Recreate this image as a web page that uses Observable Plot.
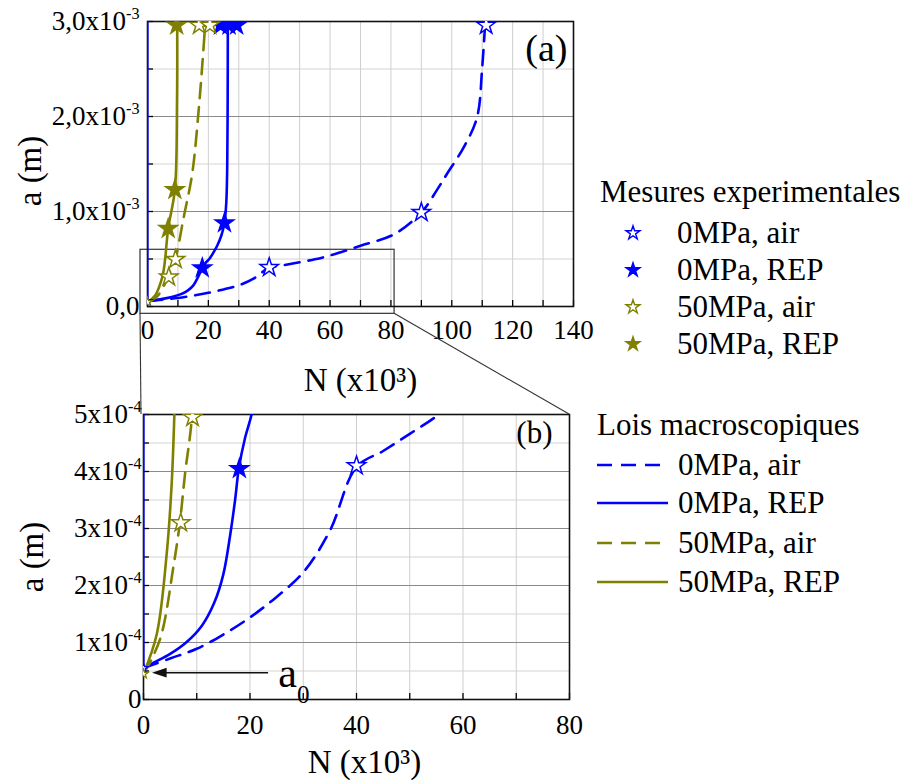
<!DOCTYPE html>
<html><head><meta charset="utf-8">
<script src="https://cdn.jsdelivr.net/npm/d3@7"></script>
<script src="https://cdn.jsdelivr.net/npm/@observablehq/plot@0.6"></script>
<style>
body{margin:0;background:#fff}
#wrap{position:relative;width:910px;height:780px;background:#fff;overflow:hidden}
#wrap svg{position:absolute}
</style>
</head><body><div id="wrap"></div>
<script>
// ---------------- DATA (a in units of 1e-3 m, N in units of 1e3 cycles) ----------------
const seriesNames = ["0MPa, air", "0MPa, REP", "50MPa, air", "50MPa, REP"];

// Lois macroscopiques (model curves)
const law0air_N = [0, 5, 10, 15, 20, 25, 30, 35, 40, 45, 50, 55, 60, 70, 81, 90, 95, 98.5, 104, 108.3, 110, 111];
const law0air_a = [0.055, 0.072, 0.089, 0.114, 0.144, 0.180, 0.223, 0.296, 0.408, 0.436, 0.466, 0.497, 0.537, 0.64, 0.76, 0.99, 1.22, 1.40, 1.68, 1.99, 2.52, 3.0];
const law0rep_N = [0, 2, 5, 8, 11, 13.3, 15, 16.3, 17.2, 17.9, 19.1, 20.3, 21.7, 22.9, 24.3, 25.3, 25.9, 26.2, 26.35, 26.4];
const law0rep_a = [0.055, 0.065, 0.08, 0.10, 0.13, 0.17, 0.22, 0.29, 0.35, 0.405, 0.46, 0.50, 0.57, 0.64, 0.75, 0.88, 1.1, 1.47, 2.2, 3.0];
const law50air_N = [0, 1.5, 3.4, 5.6, 6.8, 7.8, 9.1, 11.9, 14.7, 16.9, 18.5, 19];
const law50air_a = [0.045, 0.07, 0.115, 0.232, 0.308, 0.396, 0.495, 0.94, 1.40, 2.10, 2.76, 3.0];
const law50rep_N = [0, 2.5, 4.4, 5.3, 5.8, 6.8, 9.0, 9.7, 9.75];
const law50rep_a = [0.045, 0.115, 0.26, 0.38, 0.50, 0.82, 1.23, 2.17, 3.0];

// Mesures experimentales (stars)
const exp0air_N = [40, 90, 111.3];
const exp0air_a = [0.41, 0.99, 2.96];
const exp0rep_N = [18, 25.3, 24, 26.8, 29.3];
const exp0rep_a = [0.405, 0.88, 2.96, 2.96, 2.96];
const exp50air_N = [7, 9.2, 17, 20.5];
const exp50air_a = [0.31, 0.495, 2.96, 2.96];
const exp50rep_N = [6.8, 9.0, 9.6];
const exp50rep_a = [0.82, 1.23, 2.96];

// initial crack length a0 points
const a0_N = [0, 0];
const a0_a = [0.055, 0.045];
const a0_series = ["0MPa, air", "50MPa, air"];
const a0Edge = [0.055, 3.0];          // blue trace along N = 0
const a0Arrow = {N1: 23.4, N2: 1.6, a: 0.047, labelN: 25.3, labelA: 0.046, label: "a_0"};

// zoom box drawn on panel (a)
const zoomBox_N = [-2.3, 81.2];
const zoomBox_a = [-0.077, 0.597];

// ticks
const xTicksA = [0, 20, 40, 60, 80, 100, 120, 140];
const yTicksA = [0, 1, 2, 3];
const yLabelsA = ["0,0", "1,0x10^-3", "2,0x10^-3", "3,0x10^-3"];
const xTicksB = [0, 20, 40, 60, 80];
const yTicksB = [0, 0.1, 0.2, 0.3, 0.4, 0.5];
const yLabelsB = ["0", "1x10^-4", "2x10^-4", "3x10^-4", "4x10^-4", "5x10^-4"];

const xTitle = "N (x10³)";
const yTitle = "a (m)";
const legendTitle1 = "Mesures experimentales";
const legendTitle2 = "Lois macroscopiques";

// ---------------- styling ----------------
const BLUE = "#0000ff", OLIVE = "#808000";
const FONT = "'Liberation Serif', Tinos, 'DejaVu Serif', serif";
const colorOf = {"0MPa, air": BLUE, "0MPa, REP": BLUE, "50MPa, air": OLIVE, "50MPa, REP": OLIVE};
const DASH = "15,9";

const rows = (N, a, name) => N.map((n, i) => ({N: n, a: a[i], s: name}));
const laws = [
  {name: "0MPa, air", dashed: true, data: rows(law0air_N, law0air_a, "0MPa, air")},
  {name: "0MPa, REP", dashed: false, data: rows(law0rep_N, law0rep_a, "0MPa, REP")},
  {name: "50MPa, air", dashed: true, data: rows(law50air_N, law50air_a, "50MPa, air")},
  {name: "50MPa, REP", dashed: false, data: rows(law50rep_N, law50rep_a, "50MPa, REP")}
];
const exps = [
  {name: "0MPa, air", open: true, data: rows(exp0air_N, exp0air_a, "0MPa, air")},
  {name: "0MPa, REP", open: false, data: rows(exp0rep_N, exp0rep_a, "0MPa, REP")},
  {name: "50MPa, air", open: true, data: rows(exp50air_N, exp50air_a, "50MPa, air")},
  {name: "50MPa, REP", open: false, data: rows(exp50rep_N, exp50rep_a, "50MPa, REP")}
];
const a0Rows = a0_N.map((n, i) => ({N: n, a: a0_a[i], s: a0_series[i]}));

const step = (lo, hi, d) => d3.range(Math.round((hi - lo) / d) + 1).map(i => +(lo + i * d).toFixed(6));

function makePanel(cfg) {
  const innerW = cfg.width - cfg.ml - cfg.mr;
  const innerH = cfg.height - cfg.mt - cfg.mb;
  const marks = [
    Plot.gridX(cfg.xMinor, {stroke: "#cfcfcf", strokeOpacity: 1, strokeWidth: 1}),
    Plot.gridY(cfg.yMinor, {stroke: "#d4d4d4", strokeOpacity: 1, strokeWidth: 1}),
    Plot.gridY(cfg.yTicks, {stroke: "#8a8a8a", strokeOpacity: 1, strokeWidth: 1}),
    Plot.tickX(cfg.xMinor, {x: d => d, insetTop: innerH - 6, stroke: "#000", strokeWidth: 1.3}),
    Plot.tickY(cfg.yMinor, {y: d => d, insetRight: innerW - 6, stroke: "#000", strokeWidth: 1.3})
  ];
  if (cfg.zoomBox) {
    marks.push(Plot.rect([0], {x1: zoomBox_N[0], x2: zoomBox_N[1], y1: zoomBox_a[0], y2: zoomBox_a[1], fill: "none", stroke: "#333", strokeWidth: 1.2}));
  }
  marks.push(Plot.frame({stroke: "#111", strokeWidth: 1.6}));
  marks.push(Plot.ruleX([0], {y1: a0Edge[0], y2: a0Edge[1], stroke: BLUE, strokeWidth: 2.2, clip: true}));
  for (const l of laws) {
    marks.push(Plot.line(l.data, {x: "N", y: "a", stroke: colorOf[l.name], strokeWidth: 2.6,
      strokeDasharray: l.dashed ? DASH : null, curve: "catmull-rom", clip: true}));
  }
  marks.push(Plot.dot(a0Rows, {x: "N", y: "a", symbol: "star", r: 3, fill: "white", stroke: d => colorOf[d.s], strokeWidth: 1.2, clip: true}));
  for (const e of exps) {
    marks.push(Plot.dot(e.data, {x: "N", y: "a", symbol: "star", r: 5.8,
      fill: e.open ? "white" : colorOf[e.name], stroke: colorOf[e.name], strokeWidth: 1.5, clip: true}));
  }
  if (cfg.arrow) {
    const tri = {draw(ctx, size) { const s = Math.sqrt(size); ctx.moveTo(0, 0); ctx.lineTo(1.5 * s, -0.5 * s); ctx.lineTo(1.5 * s, 0.5 * s); ctx.closePath(); }};
    marks.push(Plot.link([a0Arrow], {x1: "N1", x2: d => d.N2 + 1.5, y1: "a", y2: "a", stroke: "#111", strokeWidth: 1.4}));
    marks.push(Plot.dot([a0Arrow], {x: "N2", y: "a", symbol: tri, r: 5.5, fill: "#111", stroke: "none"}));
    marks.push(Plot.text([a0Arrow], {x: "labelN", y: "labelA", text: "label", fontSize: 42, textAnchor: "start", lineAnchor: "middle", fill: "#000"}));
  }
  marks.push(
    Plot.axisX({ticks: cfg.xTicks, tickSize: 0, tickPadding: cfg.xPad, label: null, fontSize: 27, tickFormat: d => String(d)}),
    Plot.axisY({ticks: cfg.yTicks, tickSize: 0, tickPadding: cfg.yPad, label: null, fontSize: 27,
      tickFormat: d => cfg.yLabels[cfg.yTicks.indexOf(d)]}),
    Plot.text([xTitle], {frameAnchor: "bottom", dy: cfg.xTitleDy, dx: cfg.xTitleDx, fontSize: 33, textAnchor: "middle", lineAnchor: "middle", fill: "#000"}),
    Plot.text([yTitle], {frameAnchor: "left", rotate: -90, dx: cfg.yTitleDx, dy: cfg.yTitleDy, fontSize: 33, textAnchor: "middle", lineAnchor: "middle", fill: "#000"}),
    Plot.text([cfg.tag], {frameAnchor: "top-right", dx: cfg.tagDx, dy: cfg.tagDy, fontSize: cfg.tagSize, textAnchor: "end", lineAnchor: "middle", fill: "#000"})
  );
  return Plot.plot({
    width: cfg.width, height: cfg.height,
    marginLeft: cfg.ml, marginRight: cfg.mr, marginTop: cfg.mt, marginBottom: cfg.mb,
    x: {domain: cfg.xDomain}, y: {domain: cfg.yDomain},
    style: {fontFamily: FONT, fontSize: "27px", color: "#000", background: "transparent", overflow: "visible"},
    marks
  });
}

const plotA = makePanel({
  width: 600, height: 400, ml: 147, mr: 27, mt: 21, mb: 94,
  xDomain: [0, 140], yDomain: [0, 3],
  xTicks: xTicksA, xMinor: step(0, 140, 10), yTicks: yTicksA, yMinor: step(0, 3, 0.5), yLabels: yLabelsA,
  xPad: 13, yPad: 8, xTitleDx: 0, xTitleDy: 74, yTitleDx: -117, yTitleDy: 7,
  tag: "(a)", tagDx: -6, tagDy: 27, tagSize: 38, zoomBox: true
});
const plotB = makePanel({
  width: 600, height: 390, ml: 143, mr: 31, mt: 24, mb: 81,
  xDomain: [0, 80], yDomain: [0, 0.5],
  xTicks: xTicksB, xMinor: step(0, 80, 10), yTicks: yTicksB, yMinor: step(0, 0.5, 0.05), yLabels: yLabelsB,
  xPad: 15, yPad: 2, xTitleDx: 8, xTitleDy: 63, yTitleDx: -111, yTitleDy: 0,
  tag: "(b)", tagDx: -17, tagDy: 19, tagSize: 31, arrow: true
});

const wrap = document.getElementById("wrap");
const OFFB = 390;
plotA.style.left = "0px"; plotA.style.top = "0px";
plotB.style.left = "0px"; plotB.style.top = OFFB + "px";
wrap.appendChild(plotA);
wrap.appendChild(plotB);

// rich text: "^" superscript / "_" subscript at the end of a label
function richText(svg) {
  svg.querySelectorAll("text").forEach(t => {
    if (t.querySelector("tspan")) return;
    const s = t.textContent;
    const m = s.match(/^(.*?)([\^_])(.+)$/);
    if (!m) return;
    const F = parseFloat(getComputedStyle(t).fontSize) || 27;
    t.textContent = m[1];
    const sp = document.createElementNS("http://www.w3.org/2000/svg", "tspan");
    if (m[2] === "^") { sp.setAttribute("font-size", (0.6 * F) + "px"); sp.setAttribute("dy", (-0.4 * F) + "px"); }
    else { sp.setAttribute("font-size", (0.6 * F) + "px"); sp.setAttribute("dy", (0.38 * F) + "px"); }
    sp.textContent = m[3];
    t.appendChild(sp);
  });
}
richText(plotA); richText(plotB);

// overlay: zoom connectors + legends
const ov = d3.select(wrap).append("svg").attr("width", 910).attr("height", 780)
  .style("left", "0px").style("top", "0px").style("pointer-events", "none")
  .style("font-family", FONT);
const xA = plotA.scale("x"), yA = plotA.scale("y"), xB = plotB.scale("x"), yB = plotB.scale("y");
const bl = [xA.apply(zoomBox_N[0]), yA.apply(zoomBox_a[0])];
const br = [xA.apply(zoomBox_N[1]), yA.apply(zoomBox_a[0])];
const tl = [xB.apply(xB.domain[0]), yB.apply(yB.domain[1]) + OFFB];
const tr = [xB.apply(xB.domain[1]), yB.apply(yB.domain[1]) + OFFB];
ov.append("line").attr("x1", bl[0]).attr("y1", bl[1]).attr("x2", tl[0] - 2).attr("y2", tl[1]).attr("stroke", "#333").attr("stroke-width", 1.1);
ov.append("line").attr("x1", br[0]).attr("y1", br[1]).attr("x2", tr[0]).attr("y2", tr[1]).attr("stroke", "#333").attr("stroke-width", 1.1);

// legend 1: stars
const LF = 31;
ov.append("text").attr("x", 600).attr("y", 202).attr("font-size", LF).text(legendTitle1);
const expBase = [243, 280, 317, 354];
exps.forEach((e, i) => {
  const c = colorOf[e.name];
  ov.append("path").attr("d", d3.symbol(d3.symbolStar, 60)())
    .attr("transform", `translate(633,${expBase[i] - 10})`)
    .attr("fill", e.open ? "white" : c).attr("stroke", c).attr("stroke-width", 1.4);
  ov.append("text").attr("x", 677).attr("y", expBase[i]).attr("font-size", LF).text(seriesNames[i]);
});
// legend 2: lines
ov.append("text").attr("x", 597).attr("y", 435).attr("font-size", LF).text(legendTitle2);
const lawBase = [475, 513, 553, 592];
laws.forEach((l, i) => {
  const c = colorOf[l.name];
  ov.append("line").attr("x1", 597).attr("x2", 668).attr("y1", lawBase[i] - 10).attr("y2", lawBase[i] - 10)
    .attr("stroke", c).attr("stroke-width", 2.6).attr("stroke-dasharray", l.dashed ? DASH : null);
  ov.append("text").attr("x", 678).attr("y", lawBase[i]).attr("font-size", LF).text(seriesNames[i]);
});
</script>
</body></html>
